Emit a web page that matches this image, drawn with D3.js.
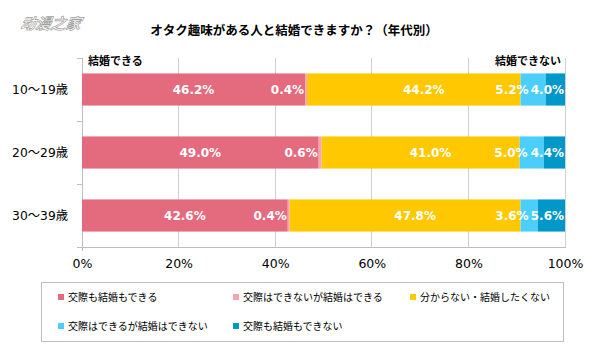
<!DOCTYPE html>
<html><head><meta charset="utf-8">
<script src="https://cdn.jsdelivr.net/npm/d3@7"></script>
<style>
html,body{margin:0;padding:0;background:#fff;}
svg{display:block;}
</style></head>
<body>
<svg id="chart" width="600" height="360"></svg>
<script>
const categories = ["10～19歳", "20～29歳", "30～39歳"];
const seriesNames = ["交際も結婚もできる", "交際はできないが結婚はできる", "分からない・結婚したくない", "交際はできるが結婚はできない", "交際も結婚もできない"];
const s1 = [46.2, 49.0, 42.6];
const s2 = [0.4, 0.6, 0.4];
const s3 = [44.2, 41.0, 47.8];
const s4 = [5.2, 5.0, 3.6];
const s5 = [4.0, 4.4, 5.6];
const xTicks = [0, 20, 40, 60, 80, 100];
const colors = ["#E46A7E", "#F2A6B3", "#FFC800", "#4BCFFA", "#0097C9"];
const title = "オタク趣味がある人と結婚できますか？（年代別）";

const series = [s1, s2, s3, s4, s5];
const svg = d3.select("#chart");
const latin = "'DejaVu Sans','Noto Sans CJK JP',sans-serif";
const cjk = "'Noto Sans CJK JP','DejaVu Sans',sans-serif";

const x = d3.scaleLinear().domain([0, 100]).range([82, 565]);
const y = d3.scaleBand().domain(categories).range([58, 247]).paddingInner(0.49).paddingOuter(0.245);

// watermark
svg.append("text").attr("x", 20).attr("y", 29).text("动漫之家")
  .attr("font-family", "'Noto Sans CJK SC',sans-serif").attr("font-size", 15).attr("font-style", "italic")
  .attr("font-weight", "bold").attr("fill", "#fff").attr("stroke", "#a0a0a0").attr("stroke-width", 0.7)
  .attr("transform", "skewX(-12) translate(6,0)");

// title
svg.append("text").attr("x", 294).attr("y", 35).attr("text-anchor", "middle").text(title)
  .attr("font-family", cjk).attr("font-size", 12.5).attr("font-weight", "bold").attr("fill", "#000");

// gridlines
svg.append("g").selectAll("line").data(xTicks.filter(t => t > 0)).join("line")
  .attr("x1", d => x(d)).attr("x2", d => x(d)).attr("y1", 58).attr("y2", 247)
  .attr("stroke", "#CFCFCF").attr("stroke-width", 1).attr("shape-rendering", "crispEdges");

// left axis
const yAxis = svg.append("g").attr("transform", "translate(82,0)");
yAxis.append("line").attr("x1", 0).attr("x2", 0).attr("y1", 58).attr("y2", 247)
  .attr("stroke", "#BFBFBF").attr("shape-rendering", "crispEdges");
const bounds = [58].concat(categories.map(c => y(c) + y.bandwidth() + y.step() * y.paddingInner() / 2));
bounds[bounds.length - 1] = 247;
yAxis.selectAll("line.tk").data(bounds).join("line").attr("class", "tk")
  .attr("x1", -5).attr("x2", 0).attr("y1", d => d).attr("y2", d => d)
  .attr("stroke", "#BFBFBF").attr("shape-rendering", "crispEdges");
yAxis.selectAll("text").data(categories).join("text")
  .attr("x", -14).attr("y", d => y(d) + y.bandwidth() / 2 + 4.5).attr("text-anchor", "end")
  .text(d => d).attr("font-family", latin).attr("font-size", 12.3).attr("fill", "#000");

// bottom axis
const xAxis = svg.append("g").attr("transform", "translate(0,247)")
  .call(d3.axisBottom(x).tickValues(xTicks).tickSize(0).tickPadding(12).tickFormat(d => d + "%"));
xAxis.select(".domain").attr("stroke", "#BFBFBF").attr("shape-rendering", "crispEdges");
xAxis.selectAll("text").attr("font-family", latin).attr("font-size", 12.5).attr("fill", "#000");
xAxis.append("line").attr("x1", x(0)).attr("x2", x(0)).attr("y1", 0).attr("y2", 4)
  .attr("stroke", "#BFBFBF").attr("shape-rendering", "crispEdges");

// stacked data
const rows = categories.map((c, i) => {
  const o = { cat: c };
  series.forEach((s, k) => o["k" + k] = s[i]);
  return o;
});
const stack = d3.stack().keys(series.map((s, k) => "k" + k))(rows);

const layers = svg.append("g").selectAll("g").data(stack).join("g").attr("fill", (d, k) => colors[k]);
layers.selectAll("rect").data(d => d).join("rect")
  .attr("x", d => x(d[0])).attr("width", d => x(d[1]) - x(d[0]))
  .attr("y", d => y(d.data.cat)).attr("height", y.bandwidth());

// labels
const lab = svg.append("g").attr("font-family", latin).attr("font-size", 12).attr("font-weight", "bold").attr("fill", "#fff");
stack.forEach((layer, k) => {
  layer.forEach(d => {
    const v = d[1] - d[0];
    let lx, anchor;
    if (k === 0) { lx = (x(d[0]) + x(d[1])) / 2; anchor = "middle"; }
    else if (k === 1) { lx = x(d[0]) - 1; anchor = "end"; }
    else if (k === 2) { lx = (x(d[0]) + x(d[1])) / 2 + 10; anchor = "middle"; }
    else if (k === 3) { lx = x(d[0]) + 8; anchor = "end"; }
    else { lx = x(100) - 1; anchor = "end"; }
    lab.append("text").attr("x", lx).attr("y", y(d.data.cat) + y.bandwidth() / 2 + 4.5)
      .attr("text-anchor", anchor).text(v.toFixed(1) + "%");
  });
});

// top labels
svg.append("text").attr("x", 88).attr("y", 65).text("結婚できる")
  .attr("font-family", cjk).attr("font-size", 11).attr("font-weight", "bold").attr("fill", "#000");
svg.append("text").attr("x", 561).attr("y", 65).attr("text-anchor", "end").text("結婚できない")
  .attr("font-family", cjk).attr("font-size", 11).attr("font-weight", "bold").attr("fill", "#000");

// legend
svg.append("rect").attr("x", 41.5).attr("y", 282.5).attr("width", 522).attr("height", 59)
  .attr("fill", "#fff").attr("stroke", "#BFBFBF");
const legPos = [[61, 297], [236, 297], [413, 297], [61, 326], [236, 326]];
const leg = svg.append("g").selectAll("g").data(seriesNames).join("g")
  .attr("transform", (d, i) => `translate(${legPos[i][0]},${legPos[i][1]})`);
leg.append("rect").attr("x", -3).attr("y", -3).attr("width", 6).attr("height", 6).attr("fill", (d, i) => colors[i]);
leg.append("text").attr("x", 7).attr("y", 3.8).text(d => d)
  .attr("font-family", cjk).attr("font-size", 10).attr("fill", "#000");
</script>
</body></html>
